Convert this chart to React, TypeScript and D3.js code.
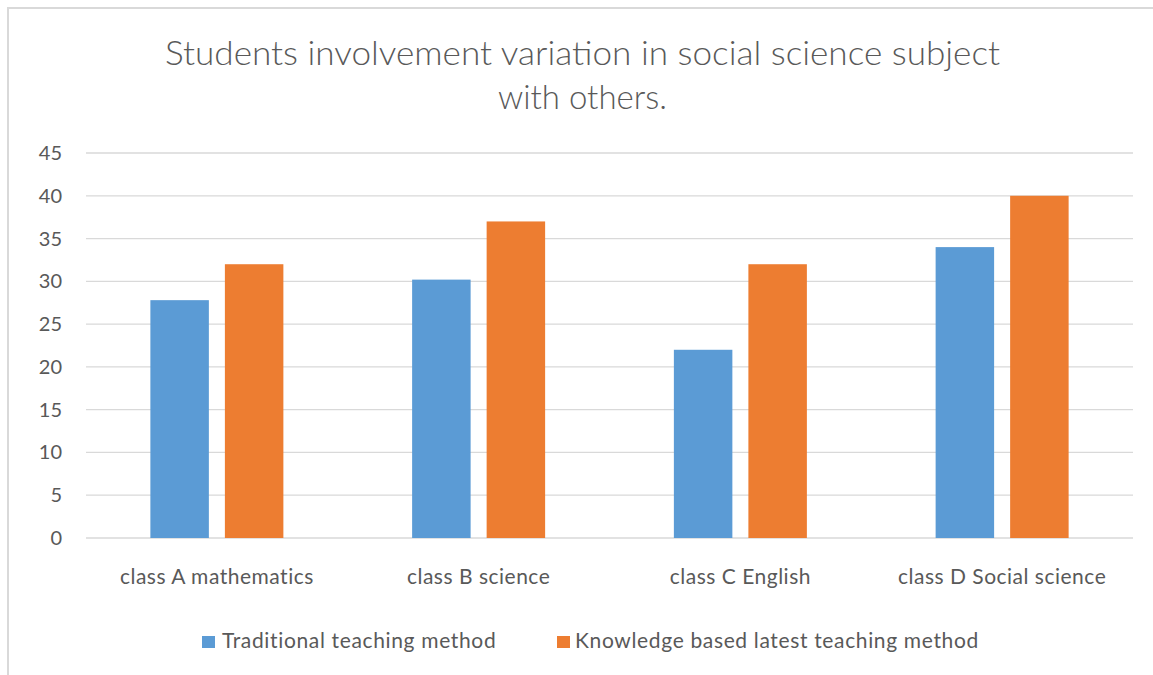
import React from "react";
import * as d3 from "d3";

const categories = ["class A mathematics", "class B science", "class C English", "class D Social science"];
const seriesNames = ["Traditional teaching method", "Knowledge based latest teaching method"];
const traditional = [27.8, 30.2, 22, 34];
const knowledge = [32, 37, 32, 40];
const yTicks = [0, 5, 10, 15, 20, 25, 30, 35, 40, 45];
const colors = ["#5B9BD5", "#ED7D31"];

const W = 1153;
const H = 675;
const FONT = "Lato, 'Open Sans', sans-serif";

export default function App() {
  const plotLeft = 86;
  const plotRight = 1133;
  const y = d3.scaleLinear().domain([0, 45]).range([538, 153]);
  const x0 = d3.scaleBand<string>().domain(categories).range([plotLeft, plotRight]).padding(0);
  const groupW = 133;
  const off = (x0.bandwidth() - groupW) / 2;
  const x1 = d3.scaleBand<string>().domain(seriesNames).range([off, off + groupW]).paddingInner(0.215).paddingOuter(0);
  const values = [traditional, knowledge];

  const legendPos = [
    { sq: 202, tx: 222 },
    { sq: 557, tx: 575 },
  ];

  return (
    <svg width={W} height={H} style={{ position: "absolute", left: 0, top: 0, background: "#fff" }}>
      <rect x={8} y={8} width={W + 20} height={H + 20} fill="#fff" stroke="#d9d9d9" strokeWidth={2} />
      <g fontFamily={FONT} fill="#595959" fontWeight={300}>
        <text x={582.5} y={65} textAnchor="middle" fontSize={33} textLength={835} lengthAdjust="spacingAndGlyphs">
          Students involvement variation in social science subject
        </text>
        <text x={582.5} y={109} textAnchor="middle" fontSize={33}>
          with others.
        </text>
      </g>
      <g>
        {yTicks.map((t) => (
          <line key={t} x1={plotLeft} x2={plotRight} y1={y(t)} y2={y(t)} stroke="#d9d9d9" strokeWidth={1.3} />
        ))}
      </g>
      <g fontFamily={FONT} fill="#595959" fontSize={20}>
        {yTicks.map((t) => (
          <text key={t} x={62} y={y(t) + 7} textAnchor="end">
            {t}
          </text>
        ))}
      </g>
      <g>
        {categories.map((c, i) =>
          seriesNames.map((s, j) => {
            const v = values[j][i];
            return (
              <rect
                key={c + s}
                x={(x0(c) as number) + (x1(s) as number)}
                y={y(v)}
                width={x1.bandwidth()}
                height={y(0) - y(v)}
                fill={colors[j]}
              />
            );
          })
        )}
      </g>
      <g fontFamily={FONT} fill="#595959" fontSize={21} letterSpacing={0.5}>
        {categories.map((c) => (
          <text key={c} x={(x0(c) as number) + x0.bandwidth() / 2} y={584} textAnchor="middle">
            {c}
          </text>
        ))}
      </g>
      <g fontFamily={FONT} fill="#595959" fontSize={21} letterSpacing={0.65}>
        {seriesNames.map((s, j) => (
          <g key={s}>
            <rect x={legendPos[j].sq} y={636} width={13} height={12} fill={colors[j]} />
            <text x={legendPos[j].tx} y={648}>
              {s}
            </text>
          </g>
        ))}
      </g>
    </svg>
  );
}
